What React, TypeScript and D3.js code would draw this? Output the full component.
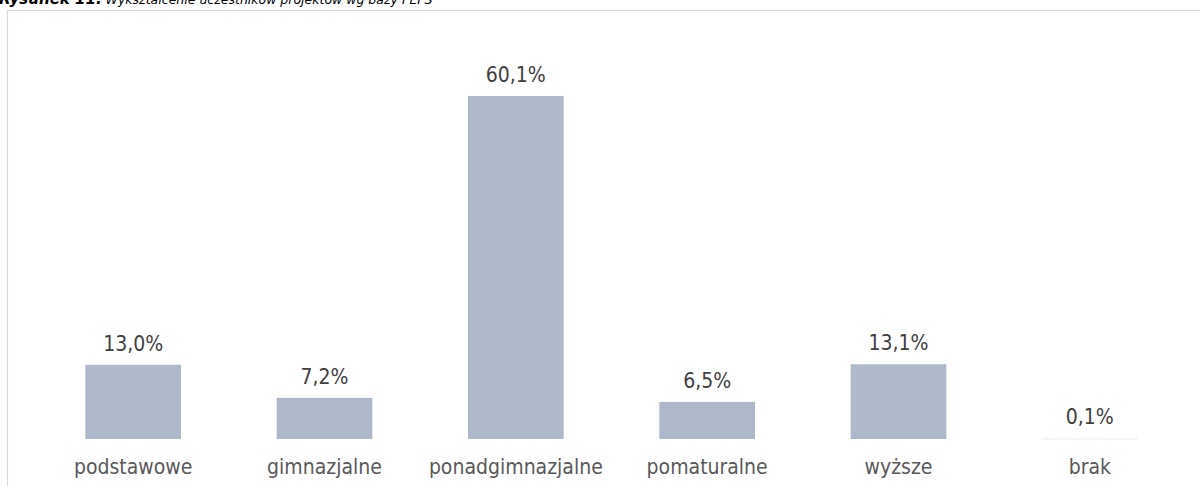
import React from "react";
import * as d3 from "d3";

const categories = ["podstawowe", "gimnazjalne", "ponadgimnazjalne", "pomaturalne", "wyższe", "brak"];
const values = [13.0, 7.2, 60.1, 6.5, 13.1, 0.1];
const valueLabels = ["13,0%", "7,2%", "60,1%", "6,5%", "13,1%", "0,1%"];
const titleBold = "Rysunek 11.";
const titleRest = " Wykształcenie uczestników projektów wg bazy PEFS";

const W = 1200;
const H = 486;
const FONT = "'DejaVu Sans Condensed', 'DejaVu Sans', sans-serif";

export default function App() {
  const x = d3.scaleBand<string>().domain(categories).range([37.5, 1185.5]).paddingInner(0.5).paddingOuter(0.25);
  const baseline = 439;
  const y = d3.scaleLinear().domain([0, d3.max(values) as number]).range([baseline, 96]);

  return (
    <svg width={W} height={H} style={{ position: "absolute", left: 0, top: 0, background: "#fff" }}>
      <text x={-1} y={4} fontFamily="'DejaVu Sans', sans-serif" fontSize={15} fontStyle="italic" fill="#000">
        <tspan fontWeight="bold">{titleBold}</tspan>
        <tspan style={{ fontSize: "12.5px" }}>{titleRest}</tspan>
      </text>
      <rect x={7.5} y={10.5} width={1300} height={600} fill="none" stroke="#d9d9d9" strokeWidth={1.2} />
      {categories.map((c, i) => {
        const bx = x(c) as number;
        const top = y(values[i]);
        return (
          <g key={c}>
            <rect x={bx} y={top} width={x.bandwidth()} height={Math.max(baseline - top, 1)} fill={values[i] < 1 ? "#e6e9ee" : "#adb9ca"} />
            <text x={bx + x.bandwidth() / 2} y={top - 14} textAnchor="middle" fontFamily={FONT} fontStretch="condensed" fontSize={21} fill="#404040">
              {valueLabels[i]}
            </text>
            <text x={bx + x.bandwidth() / 2} y={474} textAnchor="middle" fontFamily={FONT} fontStretch="condensed" fontSize={21} fill="#595959">
              {c}
            </text>
          </g>
        );
      })}
    </svg>
  );
}
